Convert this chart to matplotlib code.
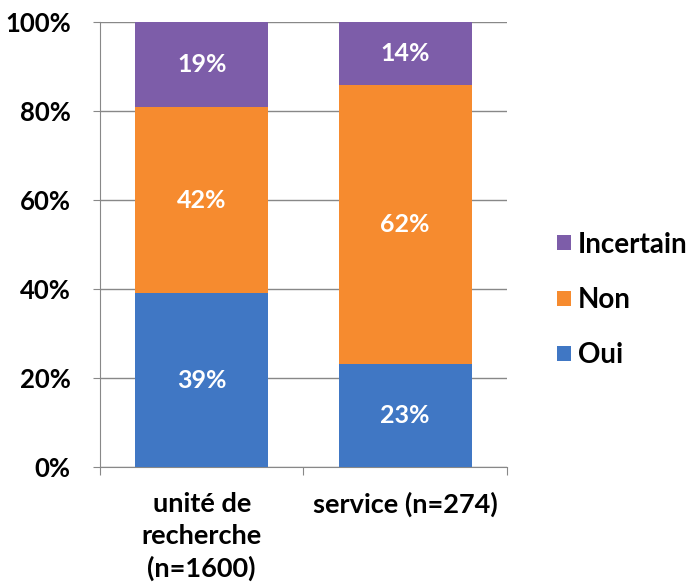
import matplotlib
matplotlib.use("Agg")
import matplotlib.pyplot as plt
import numpy as np

categories = ["unité de\nrecherche\n(n=1600)", "service (n=274)"]
series_names = ["Oui", "Non", "Incertain"]
oui = [39, 23]
non = [42, 62]
incertain = [19, 14]
colors = {"Oui": "#4077C4", "Non": "#F68B2F", "Incertain": "#7D5DA9"}
yticks = [0, 20, 40, 60, 80, 100]

plt.rcParams['font.family'] = ['Lato', 'DejaVu Sans']
plt.rcParams['font.weight'] = 'bold'

fig = plt.figure(figsize=(6.88, 5.87), dpi=100)
ax = fig.add_axes([0.1453, 0.2044, 0.5916, 0.758])

data = {"Oui": oui, "Non": non, "Incertain": incertain}
totals = np.array(oui) + np.array(non) + np.array(incertain)
x = np.arange(len(categories))
bottom = np.zeros(len(categories))
for name in series_names:
    vals = np.array(data[name], dtype=float)
    pct = vals / totals * 100
    ax.bar(x, pct, bottom=bottom, width=0.655, color=colors[name], label=name, zorder=3)
    for xi, b, p, v in zip(x, bottom, pct, vals):
        ax.text(xi, b + p / 2, f"{int(v)}%", ha='center', va='center', color='white',
                fontsize=18, fontweight='bold', zorder=4)
    bottom += pct

ax.set_xlim(-0.5, 1.5)
ax.set_ylim(0, 100)
ax.set_yticks(yticks)
ax.set_yticklabels([f"{t}%" for t in yticks], fontsize=18.5, fontweight='bold')
ax.yaxis.grid(True, color='#888888', linewidth=1, zorder=0)
ax.set_xticks([-0.5, 0.5, 1.5], minor=False)
ax.set_xticklabels([])
ax.set_xticks(x, minor=True)
ax.set_xticklabels(categories, minor=True, fontsize=19.5, fontweight='bold', linespacing=1.38)
ax.tick_params(axis='x', which='minor', length=0, pad=18)
ax.tick_params(axis='x', which='major', length=6, color='#888888', direction='out')
ax.tick_params(axis='y', length=5, color='#888888', pad=16)
for s in ['top', 'right']:
    ax.spines[s].set_visible(False)
ax.spines['left'].set_color('#888888')
ax.spines['bottom'].set_color('#888888')

handles, labels = ax.get_legend_handles_labels()
leg = fig.legend(handles[::-1], labels[::-1], loc='center left', bbox_to_anchor=(0.8096, 0.489),
                 frameon=False, fontsize=20, handlelength=0.5, handleheight=0.45,
                 handletextpad=0.25, labelspacing=1.05, borderpad=0, borderaxespad=0)
for t in leg.get_texts():
    t.set_fontweight('bold')

fig.savefig("out.png", dpi=100)
